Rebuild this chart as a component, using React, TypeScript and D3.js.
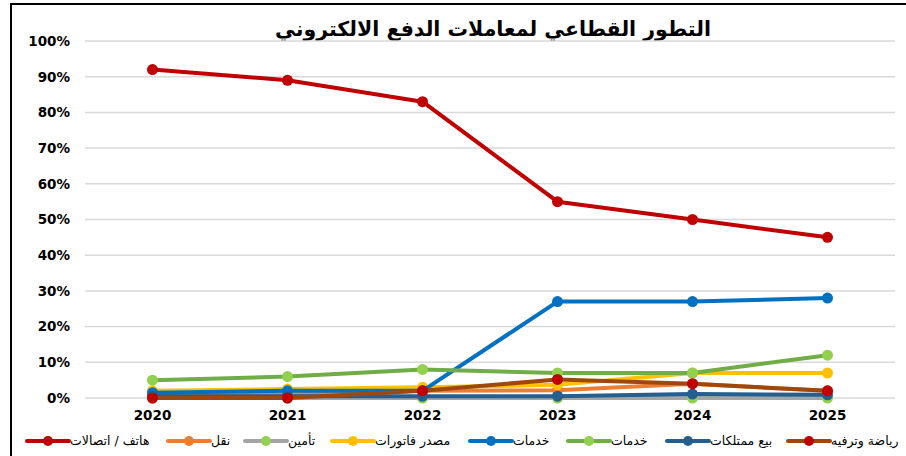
import React from "react";
import * as d3 from "d3";

const TITLE = "التطور القطاعي لمعاملات الدفع الالكتروني";
const YEARS = ["2020", "2021", "2022", "2023", "2024", "2025"];
const Y_TICKS = [0, 0.1, 0.2, 0.3, 0.4, 0.5, 0.6, 0.7, 0.8, 0.9, 1.0];

const SERIES_NAMES = ["هاتف / اتصالات", "نقل", "تأمين", "مصدر فاتورات", "خدمات", "خدمات", "بيع ممتلكات", "رياضة وترفيه"];
const PHONE = [0.92, 0.89, 0.83, 0.55, 0.50, 0.45];
const TRANSPORT = [0.01, 0.01, 0.02, 0.022, 0.04, 0.02];
const INSURANCE = [0.0, 0.0, 0.0, 0.0, 0.0, 0.0];
const BILLS = [0.02, 0.025, 0.03, 0.037, 0.07, 0.07];
const SERVICES_A = [0.015, 0.02, 0.02, 0.27, 0.27, 0.28];
const SERVICES_B = [0.05, 0.06, 0.08, 0.07, 0.07, 0.12];
const PROPERTY = [0.005, 0.005, 0.005, 0.005, 0.011, 0.009];
const SPORTS = [0.0, 0.0, 0.02, 0.052, 0.04, 0.02];

const SERIES_VALUES = [PHONE, TRANSPORT, INSURANCE, BILLS, SERVICES_A, SERVICES_B, PROPERTY, SPORTS];
const LINE_COLORS = ["#C00000", "#ED7D31", "#A5A5A5", "#FFC000", "#0070C0", "#70AD47", "#255E91", "#9E480E"];
const MARKER_COLORS = ["#C00000", "#ED7D31", "#92D050", "#FFC000", "#0070C0", "#92D050", "#255E91", "#C00000"];
const LEGEND_X = [27, 168, 245, 332, 470, 568, 667, 788];

const W = 906;
const H = 456;

export default function App() {
  const x = d3.scaleBand<string>().domain(YEARS).range([85, 895]);
  const y = d3.scaleLinear().domain([0, 1]).range([398, 41]);
  const cx = (d: string) => (x(d) as number) + x.bandwidth() / 2;
  const line = d3
    .line<number>()
    .x((_, i) => cx(YEARS[i]))
    .y((v) => y(v));
  const font = "'DejaVu Sans', Verdana, sans-serif";
  return (
    <svg width={W} height={H} style={{ position: "absolute", left: 0, top: 0, background: "#fff" }}>
      <rect x={0} y={0} width={W} height={H} fill="#fff" />
      <rect x={11} y={4} width={1200} height={1200} fill="none" stroke="#000" strokeWidth={2} />
      <text x={493} y={36} textAnchor="middle" fontFamily={font} fontWeight="bold" fontSize={20.5} fill="#000">
        {TITLE}
      </text>
      {Y_TICKS.map((t) => (
        <g key={t}>
          <line x1={85} x2={895} y1={y(t)} y2={y(t)} stroke="#d9d9d9" strokeWidth={1.5} />
          <text x={70} y={y(t)} dy="0.36em" textAnchor="end" fontFamily={font} fontWeight="bold" fontSize={13.5} fill="#000">
            {d3.format(".0%")(t)}
          </text>
        </g>
      ))}
      {YEARS.map((yr) => (
        <text key={yr} x={cx(yr)} y={420} textAnchor="middle" fontFamily={font} fontWeight="bold" fontSize={13.5} fill="#000">
          {yr}
        </text>
      ))}
      {SERIES_VALUES.map((vals, si) => (
        <g key={si}>
          <path d={line(vals) || ""} fill="none" stroke={LINE_COLORS[si]} strokeWidth={4} strokeLinejoin="round" strokeLinecap="round" />
          {vals.map((v, i) => (
            <circle key={i} cx={cx(YEARS[i])} cy={y(v)} r={5.5} fill={MARKER_COLORS[si]} />
          ))}
        </g>
      ))}
      {SERIES_NAMES.map((name, si) => {
        const lx = LEGEND_X[si];
        const ly = 441;
        return (
          <g key={si}>
            <line x1={lx} x2={lx + 42} y1={ly} y2={ly} stroke={LINE_COLORS[si]} strokeWidth={4} strokeLinecap="round" />
            <circle cx={lx + 21} cy={ly} r={5} fill={MARKER_COLORS[si]} />
            <text x={lx + 43} y={ly} dy="0.35em" textAnchor="start" fontFamily={font} fontSize={12.5} fill="#000">
              {name}
            </text>
          </g>
        );
      })}
    </svg>
  );
}
